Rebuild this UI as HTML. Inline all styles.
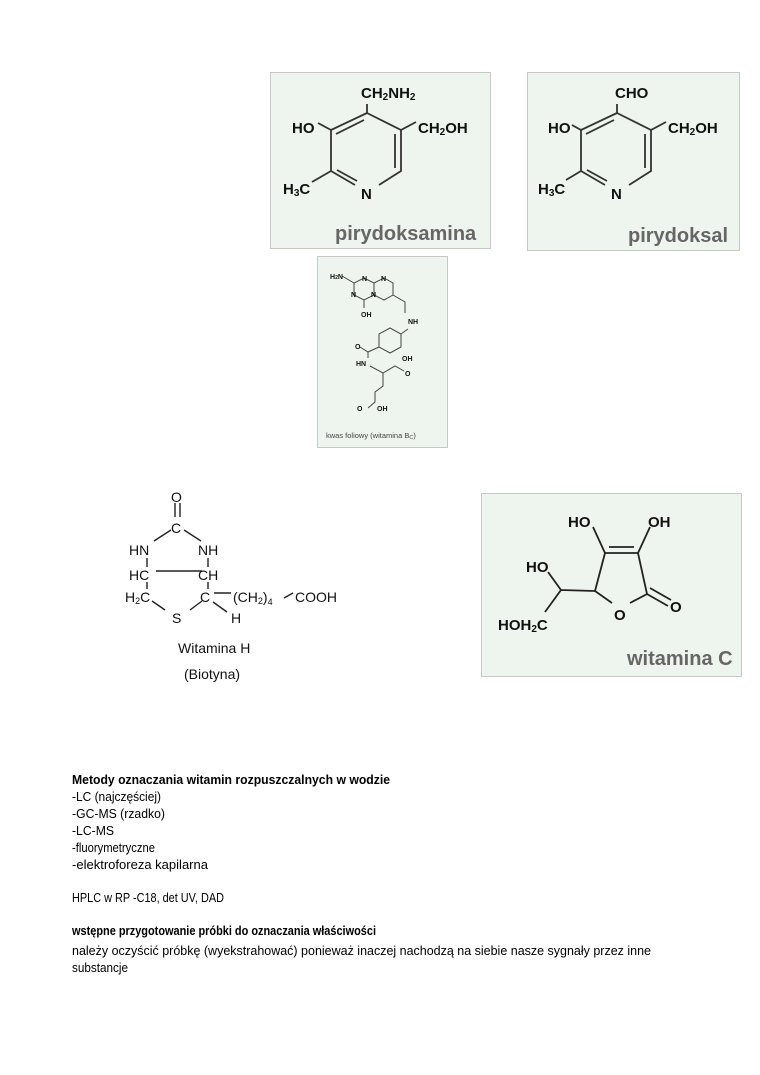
<!DOCTYPE html>
<html><head><meta charset="utf-8"><style>
html,body{margin:0;padding:0;background:#fff;}
svg{display:block;}
.b{font-family:"Liberation Sans",Arial,sans-serif;font-weight:bold;fill:#111;}
.n{font-family:"Liberation Sans",Arial,sans-serif;fill:#111;}
.t{font-family:"Liberation Sans","DejaVu Sans",sans-serif;font-size:13px;fill:#000;}
</style></head><body>
<svg width="760" height="1075" viewBox="0 0 760 1075" xmlns="http://www.w3.org/2000/svg">
<rect x="270.5" y="72.5" width="220" height="176" fill="#eef5ee" stroke="#c8c8c8"/>
<rect x="527.5" y="72.5" width="212" height="178" fill="#eef5ee" stroke="#c8c8c8"/>
<rect x="317.5" y="256.5" width="130" height="191" fill="#eef5ee" stroke="#c8c8c8"/>
<rect x="481.5" y="493.5" width="260" height="183" fill="#eef5ee" stroke="#c8c8c8"/>

<g stroke="#333" stroke-width="1.8" fill="none">
<path d="M367,113 L331,130 L331,171 L355,185 M379,185 L401,171 L401,130 L367,113"/>
<path d="M364,120 L336,134 M337,170 L357,181 M395,134 L395,168"/>
<path d="M367,113 L367,104 M331,130 L318,123 M401,130 L416,122 M331,171 L312,182"/>
</g>
<text class="b" x="361" y="98" font-size="15">CH<tspan font-size="10" dy="2">2</tspan><tspan dy="-2">NH</tspan><tspan font-size="10" dy="2">2</tspan></text>
<text class="b" x="292" y="133" font-size="15">HO</text>
<text class="b" x="418" y="133" font-size="15">CH<tspan font-size="10" dy="2">2</tspan><tspan dy="-2">OH</tspan></text>
<text class="b" x="283" y="194" font-size="15">H<tspan font-size="10" dy="2">3</tspan><tspan dy="-2">C</tspan></text>
<text class="b" x="361" y="199" font-size="15">N</text>
<text class="b" x="335" y="240" font-size="20" style="fill:#666">pirydoksamina</text>

<g stroke="#333" stroke-width="1.8" fill="none" transform="translate(250,0)">
<path d="M367,113 L331,130 L331,171 L355,185 M379,185 L401,171 L401,130 L367,113"/>
<path d="M364,120 L336,134 M337,170 L357,181 M395,134 L395,168"/>
<path d="M367,113 L367,104 M331,130 L322,125 M401,130 L416,122 M331,171 L316,180"/>
</g>
<text class="b" x="615" y="98" font-size="15">CHO</text>
<text class="b" x="548" y="133" font-size="15">HO</text>
<text class="b" x="668" y="133" font-size="15">CH<tspan font-size="10" dy="2">2</tspan><tspan dy="-2">OH</tspan></text>
<text class="b" x="538" y="194" font-size="15">H<tspan font-size="10" dy="2">3</tspan><tspan dy="-2">C</tspan></text>
<text class="b" x="611" y="199" font-size="15">N</text>
<text class="b" x="628" y="242" font-size="20" style="fill:#666">pirydoksal</text>

<g stroke="#444" stroke-width="1" fill="none">
<path d="M364,278 L374,283 L374,295 L364,300 L354,295 L354,283 Z"/>
<path d="M374,283 L384,278 L393,283 L393,295 L384,300 L374,295"/>
<path d="M393,295 L405,302 L405,313"/>
<path d="M342,276 L354,283"/>
<path d="M364,300 L364,308"/>
<path d="M390,328 L401,334 L401,347 L390,353 L379,347 L379,334 Z"/>
<path d="M401,334 L408,329"/>
<path d="M379,347 L368,352 L360,347 M368,352 L368,358"/>
<path d="M370,366 L383,373 L395,366 L404,371 M383,373 L383,386 L375,392 L375,402 L368,408"/>
</g>
<g class="b" font-size="7">
<text x="330" y="279">H<tspan font-size="5">2</tspan>N</text>
<text x="362" y="281">N</text><text x="381" y="281">N</text>
<text x="351" y="297">N</text><text x="371" y="297">N</text>
<text x="361" y="317">OH</text>
<text x="408" y="324">NH</text>
<text x="355" y="349">O</text>
<text x="356" y="366">HN</text>
<text x="402" y="361">OH</text>
<text x="405" y="376">O</text>
<text x="357" y="411">O</text>
<text x="377" y="411">OH</text>
</g>
<text class="n" x="326" y="438" font-size="7.5" style="fill:#444">kwas foliowy (witamina B<tspan font-size="5.5" dy="1">C</tspan><tspan dy="-1">)</tspan></text>

<g stroke="#222" stroke-width="1.4" fill="none">
<path d="M175,503 L175,517 M180,503 L180,517"/>
<path d="M171,530 L154,541 M184,530 L201,541"/>
<path d="M147,558 L147,567 M208,558 L208,567"/>
<path d="M156,571 L202,571"/>
<path d="M147,582 L147,589 M208,582 L208,589"/>
<path d="M152,601 L165,610 M202,601 L190,610 M213,602 L227,612 M214,593 L231,593 M284,598 L293,593"/>
</g>
<g class="n" font-size="14">
<text x="171" y="502">O</text>
<text x="171" y="533">C</text>
<text x="129" y="555">HN</text>
<text x="198" y="555">NH</text>
<text x="129" y="580">HC</text>
<text x="198" y="580">CH</text>
<text x="125" y="602">H<tspan font-size="9" dy="2">2</tspan><tspan dy="-2">C</tspan></text>
<text x="200" y="602">C</text>
<text x="233" y="602">(CH<tspan font-size="9" dy="2">2</tspan><tspan dy="-2">)</tspan><tspan font-size="9" dy="3">4</tspan></text>
<text x="295" y="602">COOH</text>
<text x="172" y="623">S</text>
<text x="231" y="623">H</text>
<text x="178" y="653">Witamina H</text>
<text x="184" y="679">(Biotyna)</text>
</g>

<g stroke="#222" stroke-width="1.8" fill="none">
<path d="M605,553 L638,553 L647,594 L630,603 M612,603 L595,591 L605,553"/>
<path d="M609,547 L634,547"/>
<path d="M605,553 L593,527 M638,553 L650,527"/>
<path d="M595,591 L561,590 L548,572 M561,590 L545,612"/>
<path d="M647,594 L668,606 M650,588 L671,600"/>
</g>
<g class="b" font-size="15">
<text x="568" y="527">HO</text>
<text x="648" y="527">OH</text>
<text x="526" y="572">HO</text>
<text x="498" y="630">HOH<tspan font-size="10" dy="2">2</tspan><tspan dy="-2">C</tspan></text>
<text x="614" y="620">O</text>
<text x="670" y="612">O</text>
</g>
<text class="b" x="627" y="665" font-size="20" style="fill:#666">witamina C</text>

<text class="t" x="72" y="784" font-weight="bold" textLength="318" lengthAdjust="spacingAndGlyphs">Metody oznaczania witamin rozpuszczalnych w wodzie</text>
<text class="t" x="72" y="801" textLength="89" lengthAdjust="spacingAndGlyphs">-LC (najczęściej)</text>
<text class="t" x="72" y="818" textLength="93" lengthAdjust="spacingAndGlyphs">-GC-MS (rzadko)</text>
<text class="t" x="72" y="835" textLength="42" lengthAdjust="spacingAndGlyphs">-LC-MS</text>
<text class="t" x="72" y="852" textLength="83" lengthAdjust="spacingAndGlyphs">-fluorymetryczne</text>
<text class="t" x="72" y="869" textLength="136" lengthAdjust="spacingAndGlyphs">-elektroforeza kapilarna</text>
<text class="t" x="72" y="902" textLength="152" lengthAdjust="spacingAndGlyphs">HPLC w RP -C18, det UV, DAD</text>
<text class="t" x="72" y="935" font-weight="bold" textLength="304" lengthAdjust="spacingAndGlyphs">wstępne przygotowanie próbki do oznaczania właściwości</text>
<text class="t" x="72" y="955" textLength="579" lengthAdjust="spacingAndGlyphs">należy oczyścić próbkę (wyekstrahować) ponieważ inaczej nachodzą na siebie nasze sygnały przez inne</text>
<text class="t" x="72" y="972" textLength="56" lengthAdjust="spacingAndGlyphs">substancje</text>
</svg>
</body></html>
